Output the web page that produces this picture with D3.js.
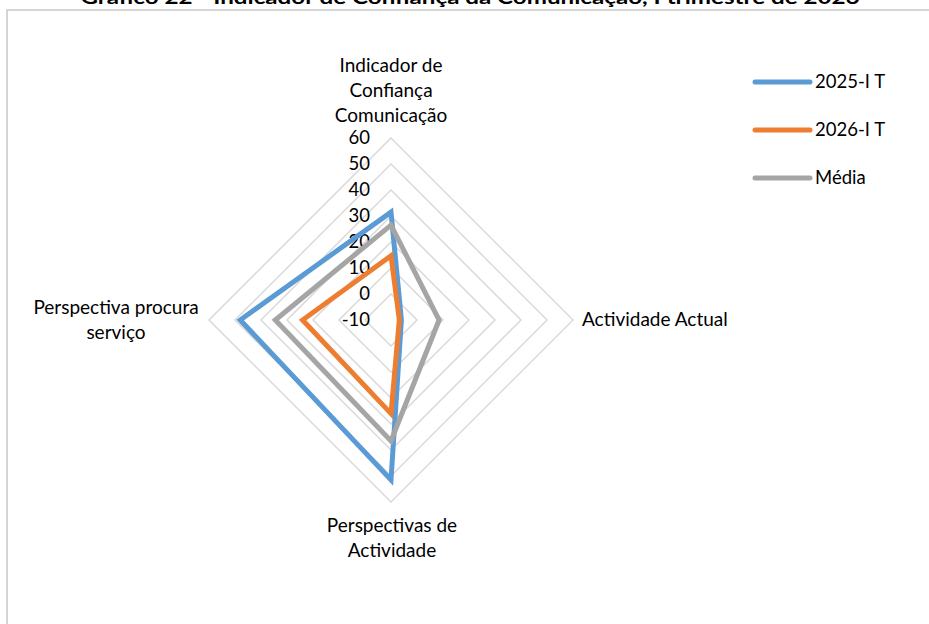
<!DOCTYPE html>
<html><head><meta charset="utf-8">
<script src="https://cdn.jsdelivr.net/npm/d3@7"></script>
<style>body{margin:0;background:#fff}svg{display:block}text{font-family:Lato,"Open Sans",sans-serif}</style>
</head><body>
<svg id="c" width="929" height="624"></svg>
<script>
const title = "Gráfico 22 - Indicador de Confiança da Comunicação, I trimestre de 2026";
const categories = [["Indicador de","Confiança","Comunicação"],["Actividade Actual"],["Perspectivas de","Actividade"],["Perspectiva procura","serviço"]];
const seriesNames = ["2025-I T","2026-I T","Média"];
const s2025 = [31.5, -6, 51.5, 48];
const s2026 = [14.7, -6.8, 26, 24];
const media = [26.5, 8.5, 36.5, 34.5];
const ticks = [-10,0,10,20,30,40,50,60];
const colors = ["#5B9BD5","#ED7D31","#A5A5A5"];

const svg = d3.select("#c");
const cx = 391, cy = 320, R = 182;
const r = d3.scaleLinear().domain([-10,60]).range([0,R]);
const ang = d3.scaleLinear().domain([0,categories.length]).range([0,2*Math.PI]);
const pt = (i,v)=>[cx + r(v)*Math.sin(ang(i)), cy - r(v)*Math.cos(ang(i))];

// frame
svg.append("rect").attr("x",7).attr("y",10).attr("width",940).attr("height",640)
  .attr("fill","none").attr("stroke","#c8c8c8").attr("stroke-width",1.5);
// title
svg.append("text").attr("x",470).attr("y",4).attr("text-anchor","middle")
  .attr("font-weight","bold").attr("font-size",19).attr("textLength",779).attr("lengthAdjust","spacingAndGlyphs").text(title);

// grid rings
const line = d3.line().curve(d3.curveLinearClosed);
svg.append("g").selectAll("path").data(ticks.filter(t=>t>-10)).join("path")
  .attr("d",t=>line(categories.map((c,i)=>pt(i,t))))
  .attr("fill","none").attr("stroke","#d9d9d9").attr("stroke-width",1.5);

// tick labels
svg.append("g").selectAll("text").data(ticks).join("text")
  .attr("x",370).attr("y",t=>cy - r(t)).attr("dy","0.35em").attr("text-anchor","end")
  .attr("font-size",18.5).attr("fill","#000").text(t=>t);

// series
const data = [s2025,s2026,media];
svg.append("g").selectAll("path").data(data).join("path")
  .attr("d",d=>line(d.map((v,i)=>pt(i,v))))
  .attr("fill","none").attr("stroke",(d,i)=>colors[i]).attr("stroke-width",5).attr("stroke-linejoin","miter");

// category labels
const labelPos = [{x:391,y:65,a:"middle"},{x:582,y:319,a:"start"},{x:392,y:525,a:"middle"},{x:116,y:307,a:"middle"}];
categories.forEach((lines,i)=>{
  const p = labelPos[i];
  const t = svg.append("text").attr("font-size",19).attr("text-anchor",p.a);
  lines.forEach((l,j)=>t.append("tspan").attr("x",p.x).attr("y",p.y + j*25).attr("dy","0.35em").text(l));
});

// legend
const lg = svg.append("g").selectAll("g").data(seriesNames).join("g")
  .attr("transform",(d,i)=>`translate(755,${82 + i*48})`);
lg.append("line").attr("x1",0).attr("x2",55).attr("stroke",(d,i)=>colors[i]).attr("stroke-width",5).attr("stroke-linecap","round");
lg.append("text").attr("x",60).attr("dy","0.35em").attr("font-size",18.5).text(d=>d);
</script>
</body></html>
